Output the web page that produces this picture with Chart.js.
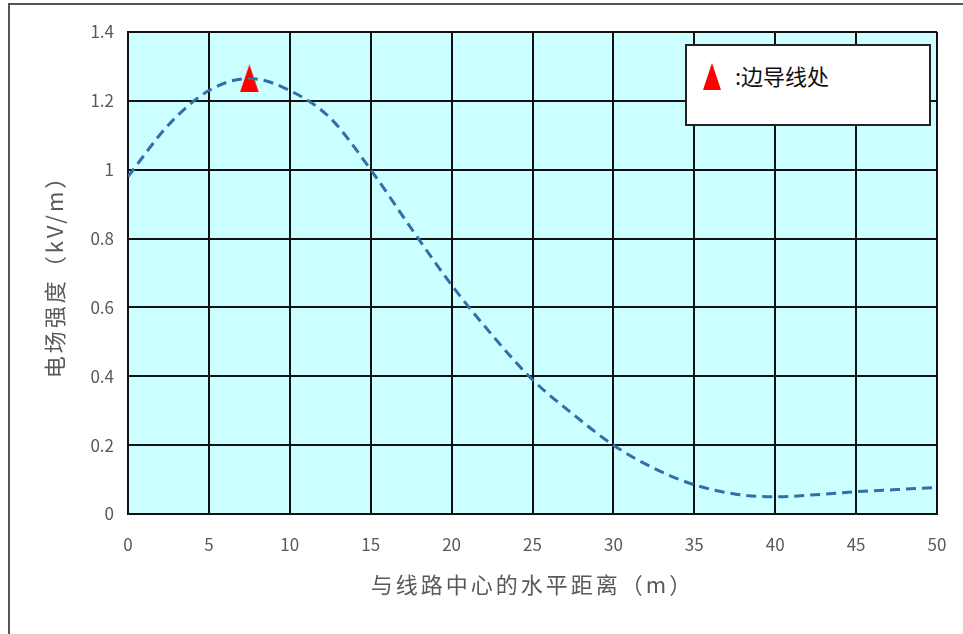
<!DOCTYPE html>
<html lang="zh">
<head>
    <meta charset="UTF-8">
    <title>电场强度分布</title>
    <script src="https://cdn.jsdelivr.net/npm/chart.js"></script>
    <style>
        html, body { margin: 0; padding: 0; background: #fff; }
        #wrap { position: relative; width: 963px; height: 634px; overflow: hidden; }
        #frame { position: absolute; left: 8px; top: 3px; width: 980px; height: 700px;
                 border-top: 2px solid #555; border-left: 2px solid #555; }
        #legend { position: absolute; left: 685px; top: 44px; width: 242px; height: 78px;
                  background: #fff; border: 2px solid #222; }
        #legend .tri { position: absolute; left: 16px; top: 17px; width: 0; height: 0;
                       border-left: 9px solid transparent; border-right: 9px solid transparent;
                       border-bottom: 27px solid #ff0000; }
        #legend .txt { position: absolute; left: 48px; top: 14px; font-family: "Noto Sans CJK SC", sans-serif;
                       font-size: 22px; color: #111; line-height: 30px; }
    </style>
</head>
<body>
    <div id="wrap">
        <div id="frame"></div>
        <canvas id="efChart" width="963" height="634"></canvas>
        <div id="legend"><div class="tri"></div><div class="txt">:边导线处</div></div>
    </div>

    <script>
        // distance from line centre (m)
        const distance = [0, 2.5, 5, 7.5, 10, 12.5, 15, 17.5, 20, 22.5, 25, 27.5, 30, 32.5, 35, 37.5, 40, 42.5, 45, 47.5, 50];
        // field strength (kV/m)
        const fieldStrength = [0.98, 1.13, 1.23, 1.265, 1.23, 1.15, 1.0, 0.83, 0.665, 0.52, 0.39, 0.29, 0.2, 0.133, 0.085, 0.058, 0.05, 0.056, 0.065, 0.071, 0.077];
        // side conductor marker
        const sideConductorX = [7.5];
        const sideConductorY = [1.265];

        const xTitle = "与线路中心的水平距离（m）";
        const yTitle = "电场强度（kV/m）";

        // tall red triangle used as point style
        const triImg = document.createElement("canvas");
        triImg.width = 19; triImg.height = 28;
        const tctx = triImg.getContext("2d");
        tctx.fillStyle = "#ff0000";
        tctx.beginPath();
        tctx.moveTo(9.5, 0); tctx.lineTo(19, 28); tctx.lineTo(0, 28); tctx.closePath();
        tctx.fill();

        const plotBg = {
            id: "plotBg",
            beforeDraw(chart) {
                const { ctx, chartArea: a } = chart;
                ctx.save();
                ctx.fillStyle = "#ccffff";
                ctx.fillRect(a.left, a.top, a.right - a.left, a.bottom - a.top);
                ctx.restore();
            }
        };

        // axis titles drawn with letter spacing (the built-in title can't do that)
        const axisTitles = {
            id: "axisTitles",
            afterDraw(chart) {
                const { ctx, chartArea: a } = chart;
                ctx.save();
                ctx.font = "22px 'Noto Sans CJK SC', sans-serif";
                ctx.fillStyle = "#595959";
                ctx.textAlign = "center";
                ctx.textBaseline = "middle";
                ctx.letterSpacing = "3px";
                ctx.fillText(xTitle, (a.left + a.right) / 2, a.bottom + 71);
                ctx.translate(a.left - 73, (a.top + a.bottom) / 2 - 2);
                ctx.rotate(-Math.PI / 2);
                ctx.fillText(yTitle, 0, 0);
                ctx.restore();
            }
        };

        const tickFont = { family: "'Noto Sans CJK SC', sans-serif", size: 17 };

        new Chart(document.getElementById("efChart"), {
            type: "line",
            data: {
                datasets: [{
                    data: distance.map((x, i) => ({ x: x, y: fieldStrength[i] })),
                    borderColor: "#2e70a8",
                    borderWidth: 3,
                    borderDash: [10, 6],
                    pointRadius: 0,
                    cubicInterpolationMode: "monotone",
                    fill: false
                }, {
                    data: sideConductorX.map((x, i) => ({ x: x, y: sideConductorY[i] })),
                    showLine: false,
                    pointStyle: triImg,
                    pointRadius: 14
                }]
            },
            options: {
                responsive: false,
                animation: false,
                layout: { padding: { top: 32, right: 26, left: 0, bottom: 0 } },
                plugins: { legend: { display: false }, tooltip: { enabled: false } },
                scales: {
                    x: {
                        type: "linear", min: 0, max: 50,
                        ticks: { stepSize: 5, color: "#595959", font: tickFont, padding: 20, maxRotation: 0 },
                        grid: { color: "#111", lineWidth: 2, drawTicks: false },
                        border: { color: "#111", width: 2 },
                        afterFit(s) { s.height = 120; s.paddingLeft = 0; s.paddingRight = 0; }
                    },
                    y: {
                        min: 0, max: 1.4,
                        ticks: { stepSize: 0.2, color: "#595959", font: tickFont, padding: 14,
                                 callback: v => String(Number(v.toFixed(1))) },
                        grid: { color: "#111", lineWidth: 2, drawTicks: false },
                        border: { color: "#111", width: 2 },
                        afterFit(s) { s.width = 128; s.paddingTop = 0; s.paddingBottom = 0; }
                    }
                }
            },
            plugins: [plotBg, axisTitles]
        });
    </script>
</body>
</html>
